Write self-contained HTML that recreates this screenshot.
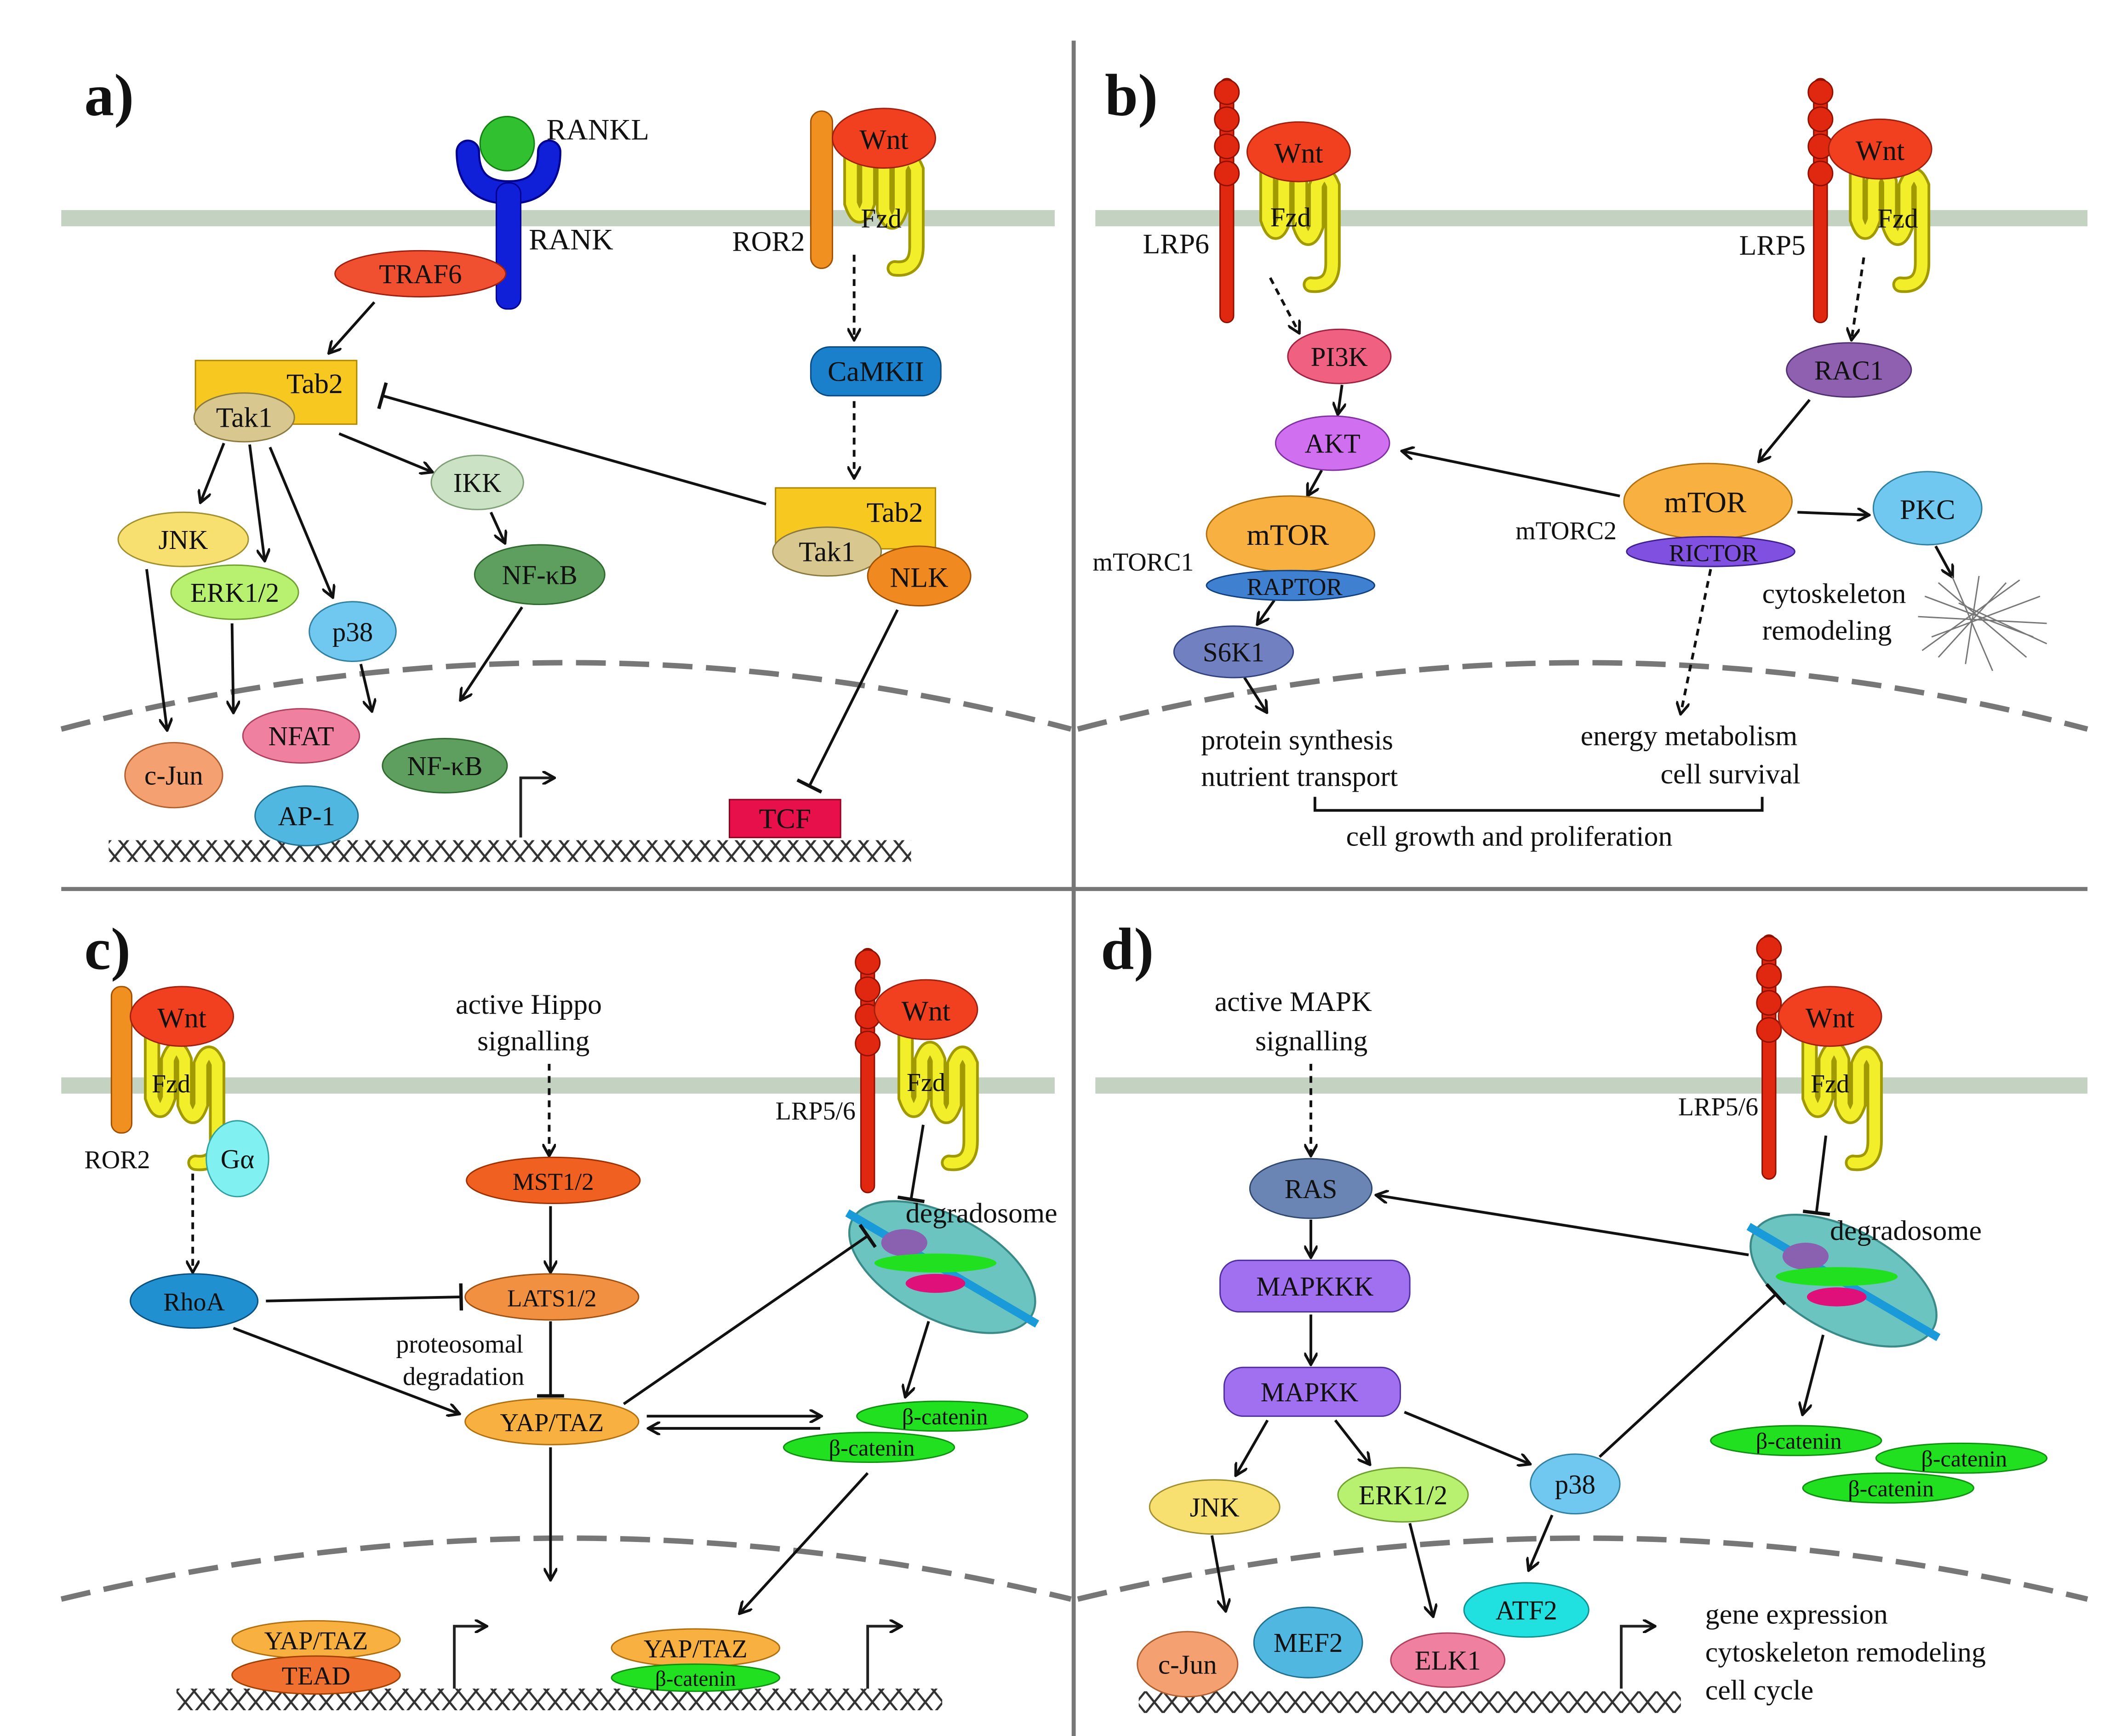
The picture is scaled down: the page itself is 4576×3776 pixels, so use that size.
<!DOCTYPE html>
<html><head><meta charset="utf-8"><style>html,body{margin:0;padding:0;background:#fff}svg{display:block}text{font-family:"Liberation Serif",serif;fill:#111}</style></head><body>
<svg width="4576" height="3776" viewBox="0 0 1552 1281" xmlns="http://www.w3.org/2000/svg">
<defs>
<marker id="ar" markerWidth="10" markerHeight="10" refX="8" refY="5" orient="auto" markerUnits="userSpaceOnUse"><path d="M0,0 L9,5 L0,10" fill="none" stroke="#111" stroke-width="2"/></marker>
<marker id="tb" markerWidth="4" markerHeight="20" refX="2" refY="10" orient="auto" markerUnits="userSpaceOnUse"><path d="M2,0 V20" stroke="#111" stroke-width="2.5"/></marker>
<pattern id="dna" width="13" height="16" patternUnits="userSpaceOnUse"><path d="M0,0 L13,16 M13,0 L0,16" stroke="#333" stroke-width="1.6"/></pattern>
<g id="fzd"><path d="M0,-15 V40 Q6,58 12,40 V12 Q18,-4 24,12 V45 Q30,62 36,45 V15 Q42,0 48,15 V72 Q48,90 32,88" fill="none" stroke="#a09a00" stroke-width="12" stroke-linecap="round"/><path d="M0,-15 V40 Q6,58 12,40 V12 Q18,-4 24,12 V45 Q30,62 36,45 V15 Q42,0 48,15 V72 Q48,90 32,88" fill="none" stroke="#f2ee2a" stroke-width="8" stroke-linecap="round"/></g>
<g id="lrp"><rect x="-5" y="0" width="10" height="180" rx="5" fill="#e02810" stroke="#901000"/><circle cx="0" cy="10" r="9" fill="#e02810" stroke="#901000"/><circle cx="0" cy="30" r="9" fill="#e02810" stroke="#901000"/><circle cx="0" cy="50" r="9" fill="#e02810" stroke="#901000"/><circle cx="0" cy="70" r="9" fill="#e02810" stroke="#901000"/></g>
<g id="degr"><ellipse cx="0" cy="0" rx="75" ry="38" transform="rotate(28)" fill="#6cc4c0" stroke="#3a8a88" stroke-width="1.5"/><line x1="-70" y1="-40" x2="70" y2="42" stroke="#1a9ad8" stroke-width="6"/><ellipse cx="-28" cy="-18" rx="17" ry="10" fill="#8a60b0"/><ellipse cx="-5" cy="-3" rx="45" ry="7" fill="#20e020"/><ellipse cx="-5" cy="12" rx="22" ry="7" fill="#e0107a"/></g>
</defs>
<rect width="1552" height="1281" fill="#fff"/>
<line x1="792" y1="30" x2="792" y2="1281" stroke="#777" stroke-width="3"/>
<line x1="45" y1="656" x2="1540" y2="656" stroke="#777" stroke-width="3"/>
<rect x="45" y="155" width="733" height="12" fill="#c4d2c2"/>
<rect x="808" y="155" width="732" height="12" fill="#c4d2c2"/>
<rect x="45" y="795" width="733" height="12" fill="#c4d2c2"/>
<rect x="808" y="795" width="732" height="12" fill="#c4d2c2"/>
<g fill="none" stroke="#777" stroke-width="4" stroke-dasharray="22 10">
<path d="M45,538 Q420,440 790,538"/><path d="M795,538 Q1170,440 1540,538"/>
<path d="M45,1180 Q420,1090 790,1180"/><path d="M795,1180 Q1170,1090 1540,1180"/>
</g>
<rect x="80" y="620" width="592" height="16" fill="url(#dna)"/>
<rect x="130" y="1246" width="565" height="16" fill="url(#dna)"/>
<rect x="840" y="1248" width="400" height="16" fill="url(#dna)"/>
<g fill="none" stroke="#222" stroke-width="2" marker-end="url(#ar)">
<path d="M384,618 V574 H408"/><path d="M335,1246 V1200 H358"/><path d="M640,1246 V1200 H664"/><path d="M1196,1246 V1200 H1220"/>
</g>
<g font-weight="bold" font-size="44"><text x="62" y="85">a)</text><text x="815" y="85">b)</text><text x="62" y="715">c)</text><text x="812" y="715">d)</text></g>

<!-- Panel a -->
<path d="M345,112 Q345,142 375,142 Q405,142 405,112" fill="none" stroke="#000090" stroke-width="18" stroke-linecap="round"/>
<path d="M345,112 Q345,142 375,142 Q405,142 405,112" fill="none" stroke="#1020d8" stroke-width="15" stroke-linecap="round"/>
<rect x="366" y="135" width="18" height="93" rx="8" fill="#1020d8" stroke="#000090"/>
<circle cx="374" cy="106" r="20" fill="#30c030" stroke="#108010"/>
<text x="403" y="103" font-size="22">RANKL</text><text x="390" y="184" font-size="22">RANK</text>
<ellipse cx="310" cy="202" rx="63" ry="17" fill="#f05030" stroke="#a02010"/><text x="310" y="209" font-size="20" text-anchor="middle">TRAF6</text>
<rect x="598" y="82" width="16" height="116" rx="8" fill="#f09020" stroke="#a05000"/>
<use href="#fzd" x="628" y="110"/>
<ellipse cx="652" cy="102" rx="38" ry="22" fill="#f04020" stroke="#a02010"/><text x="652" y="110" font-size="21" text-anchor="middle">Wnt</text>
<text x="650" y="168" font-size="20" text-anchor="middle">Fzd</text><text x="540" y="185" font-size="21">ROR2</text>
<g stroke="#111" stroke-width="2" fill="none">
<line x1="630" y1="188" x2="630" y2="250" stroke-dasharray="5 4" marker-end="url(#ar)"/>
<line x1="630" y1="296" x2="630" y2="352" stroke-dasharray="5 4" marker-end="url(#ar)"/>
<line x1="276" y1="223" x2="243" y2="260" marker-end="url(#ar)"/>
<line x1="565" y1="372" x2="282" y2="292" marker-end="url(#tb)"/>
<line x1="165" y1="327" x2="148" y2="370" marker-end="url(#ar)"/>
<line x1="184" y1="328" x2="195" y2="413" marker-end="url(#ar)"/>
<line x1="199" y1="330" x2="245" y2="440" marker-end="url(#ar)"/>
<line x1="250" y1="320" x2="318" y2="348" marker-end="url(#ar)"/>
<line x1="362" y1="378" x2="372" y2="400" marker-end="url(#ar)"/>
<line x1="108" y1="420" x2="123" y2="538" marker-end="url(#ar)"/>
<line x1="171" y1="460" x2="172" y2="525" marker-end="url(#ar)"/>
<line x1="266" y1="490" x2="274" y2="524" marker-end="url(#ar)"/>
<line x1="385" y1="448" x2="340" y2="516" marker-end="url(#ar)"/>
<line x1="662" y1="450" x2="597" y2="580" marker-end="url(#tb)"/>
</g>
<rect x="598" y="256" width="96" height="36" rx="14" fill="#1a80cc" stroke="#0a4a80"/><text x="646" y="281" font-size="21" text-anchor="middle">CaMKII</text>
<rect x="144" y="266" width="119" height="47" fill="#f6c820" stroke="#b08800"/><text x="232" y="290" font-size="21" text-anchor="middle">Tab2</text>
<ellipse cx="180" cy="308" rx="37" ry="18" fill="#d8c890" stroke="#8a7a40"/><text x="180" y="315" font-size="21" text-anchor="middle">Tak1</text>
<rect x="572" y="360" width="118" height="45" fill="#f6c820" stroke="#b08800"/><text x="660" y="385" font-size="21" text-anchor="middle">Tab2</text>
<ellipse cx="610" cy="407" rx="40" ry="18" fill="#d8c890" stroke="#8a7a40"/><text x="610" y="414" font-size="21" text-anchor="middle">Tak1</text>
<ellipse cx="678" cy="425" rx="38" ry="22" fill="#f08a20" stroke="#a05000"/><text x="678" y="433" font-size="21" text-anchor="middle">NLK</text>
<ellipse cx="135" cy="398" rx="48" ry="20" fill="#f8e070" stroke="#a09030"/><text x="135" y="405" font-size="20" text-anchor="middle">JNK</text>
<ellipse cx="173" cy="437" rx="47" ry="20" fill="#b8f070" stroke="#70a030"/><text x="173" y="444" font-size="20" text-anchor="middle">ERK1/2</text>
<ellipse cx="260" cy="466" rx="32" ry="22" fill="#70c8f0" stroke="#3080a0"/><text x="260" y="473" font-size="20" text-anchor="middle">p38</text>
<ellipse cx="352" cy="356" rx="34" ry="20" fill="#cce2c4" stroke="#80a078"/><text x="352" y="363" font-size="20" text-anchor="middle">IKK</text>
<ellipse cx="398" cy="424" rx="48" ry="22" fill="#5e9e5e" stroke="#2e6a2e"/><text x="398" y="431" font-size="20" text-anchor="middle">NF-κB</text>
<ellipse cx="128" cy="572" rx="36" ry="24" fill="#f4a070" stroke="#b06030"/><text x="128" y="579" font-size="20" text-anchor="middle">c-Jun</text>
<ellipse cx="222" cy="543" rx="43" ry="20" fill="#f080a0" stroke="#b04060"/><text x="222" y="550" font-size="20" text-anchor="middle">NFAT</text>
<ellipse cx="226" cy="602" rx="38" ry="22" fill="#50b8e0" stroke="#207090"/><text x="226" y="609" font-size="20" text-anchor="middle">AP-1</text>
<ellipse cx="328" cy="565" rx="46" ry="20" fill="#5e9e5e" stroke="#2e6a2e"/><text x="328" y="572" font-size="20" text-anchor="middle">NF-κB</text>
<rect x="538" y="590" width="82" height="28" fill="#e8104a" stroke="#900020"/><text x="579" y="611" font-size="21" text-anchor="middle">TCF</text>

<!-- Panel b -->
<use href="#lrp" x="905" y="58"/><use href="#fzd" x="935" y="122"/>
<ellipse cx="958" cy="112" rx="38" ry="22" fill="#f04020" stroke="#a02010"/><text x="958" y="120" font-size="21" text-anchor="middle">Wnt</text>
<text x="952" y="167" font-size="20" text-anchor="middle">Fzd</text><text x="843" y="187" font-size="21">LRP6</text>
<use href="#lrp" x="1343" y="58"/><use href="#fzd" x="1370" y="122"/>
<ellipse cx="1387" cy="110" rx="38" ry="22" fill="#f04020" stroke="#a02010"/><text x="1387" y="118" font-size="21" text-anchor="middle">Wnt</text>
<text x="1400" y="168" font-size="20" text-anchor="middle">Fzd</text><text x="1283" y="188" font-size="21">LRP5</text>
<g stroke="#111" stroke-width="2" fill="none">
<line x1="937" y1="205" x2="958" y2="245" stroke-dasharray="5 4" marker-end="url(#ar)"/>
<line x1="1375" y1="190" x2="1366" y2="250" stroke-dasharray="5 4" marker-end="url(#ar)"/>
<line x1="990" y1="284" x2="987" y2="305" marker-end="url(#ar)"/>
<line x1="975" y1="347" x2="965" y2="365" marker-end="url(#ar)"/>
<line x1="940" y1="443" x2="928" y2="460" marker-end="url(#ar)"/>
<line x1="918" y1="500" x2="934" y2="525" marker-end="url(#ar)"/>
<line x1="1195" y1="366" x2="1035" y2="333" marker-end="url(#ar)"/>
<line x1="1335" y1="295" x2="1298" y2="340" marker-end="url(#ar)"/>
<line x1="1326" y1="378" x2="1378" y2="380" marker-end="url(#ar)"/>
<line x1="1428" y1="403" x2="1440" y2="425" marker-end="url(#ar)"/>
<line x1="1262" y1="420" x2="1240" y2="526" stroke-dasharray="5 4" marker-end="url(#ar)"/>
<path d="M970,588 V598 H1300 V588"/>
</g>
<g stroke="#777" stroke-width="1">
<path d="M1420,440 L1500,470 M1425,470 L1505,440 M1440,425 L1470,495 M1460,425 L1450,490 M1415,455 L1510,460 M1430,430 L1495,485 M1480,430 L1430,485 M1445,445 L1510,475 M1418,480 L1490,428"/>
</g>
<ellipse cx="988" cy="263" rx="38" ry="20" fill="#f06080" stroke="#a02040"/><text x="988" y="270" font-size="20" text-anchor="middle">PI3K</text>
<ellipse cx="983" cy="327" rx="42" ry="20" fill="#d070f0" stroke="#8030a0"/><text x="983" y="334" font-size="20" text-anchor="middle">AKT</text>
<ellipse cx="952" cy="394" rx="62" ry="28" fill="#f8b040" stroke="#b07010"/><text x="950" y="402" font-size="22" text-anchor="middle">mTOR</text>
<ellipse cx="952" cy="432" rx="62" ry="11" fill="#4080d0" stroke="#104080"/><text x="955" y="439" font-size="18" text-anchor="middle">RAPTOR</text>
<ellipse cx="910" cy="481" rx="44" ry="19" fill="#7080c0" stroke="#304080"/><text x="910" y="488" font-size="20" text-anchor="middle">S6K1</text>
<text x="806" y="421" font-size="19">mTORC1</text>
<ellipse cx="1364" cy="273" rx="46" ry="20" fill="#9060b0" stroke="#503070"/><text x="1364" y="280" font-size="20" text-anchor="middle">RAC1</text>
<ellipse cx="1260" cy="370" rx="62" ry="28" fill="#f8b040" stroke="#b07010"/><text x="1258" y="378" font-size="22" text-anchor="middle">mTOR</text>
<ellipse cx="1262" cy="407" rx="62" ry="11" fill="#8050e0" stroke="#402090"/><text x="1264" y="414" font-size="18" text-anchor="middle">RICTOR</text>
<text x="1118" y="398" font-size="19">mTORC2</text>
<ellipse cx="1422" cy="375" rx="40" ry="27" fill="#70c8f0" stroke="#3080a0"/><text x="1422" y="383" font-size="21" text-anchor="middle">PKC</text>
<text x="1300" y="445" font-size="21">cytoskeleton</text><text x="1300" y="472" font-size="21">remodeling</text>
<g font-size="21"><text x="886" y="553">protein synthesis</text><text x="886" y="580">nutrient transport</text>
<text x="1166" y="550">energy metabolism</text><text x="1225" y="578">cell survival</text>
<text x="993" y="624">cell growth and proliferation</text></g>

<!-- Panel c -->
<rect x="82" y="728" width="15" height="108" rx="7" fill="#f09020" stroke="#a05000"/>
<use href="#fzd" x="112" y="770"/>
<ellipse cx="134" cy="750" rx="38" ry="22" fill="#f04020" stroke="#a02010"/><text x="134" y="758" font-size="21" text-anchor="middle">Wnt</text>
<text x="126" y="806" font-size="19" text-anchor="middle">Fzd</text><text x="62" y="862" font-size="19">ROR2</text>
<ellipse cx="175" cy="855" rx="23" ry="28" fill="#80f0f0" stroke="#30a0a0"/><text x="175" y="862" font-size="20" text-anchor="middle">Gα</text>
<g font-size="21"><text x="336" y="748">active Hippo</text><text x="352" y="775">signalling</text></g>
<use href="#lrp" x="640" y="700"/><use href="#fzd" x="668" y="770"/>
<ellipse cx="683" cy="745" rx="38" ry="22" fill="#f04020" stroke="#a02010"/><text x="683" y="753" font-size="21" text-anchor="middle">Wnt</text>
<text x="683" y="805" font-size="19" text-anchor="middle">Fzd</text><text x="572" y="826" font-size="19">LRP5/6</text>
<use href="#degr" x="695" y="935"/>
<text x="668" y="902" font-size="21">degradosome</text>
<g stroke="#111" stroke-width="2" fill="none">
<line x1="142" y1="866" x2="142" y2="938" stroke-dasharray="5 4" marker-end="url(#ar)"/>
<line x1="405" y1="785" x2="405" y2="852" stroke-dasharray="5 4" marker-end="url(#ar)"/>
<line x1="406" y1="890" x2="406" y2="938" marker-end="url(#ar)"/>
<line x1="196" y1="960" x2="340" y2="957" marker-end="url(#tb)"/>
<line x1="406" y1="975" x2="406" y2="1030" marker-end="url(#tb)"/>
<line x1="172" y1="980" x2="338" y2="1043" marker-end="url(#ar)"/>
<line x1="460" y1="1036" x2="640" y2="912" marker-end="url(#tb)"/>
<line x1="681" y1="830" x2="672" y2="885" marker-end="url(#tb)"/>
<line x1="685" y1="975" x2="668" y2="1030" marker-end="url(#ar)"/>
<line x1="477" y1="1045" x2="605" y2="1045" marker-end="url(#ar)"/>
<line x1="605" y1="1054" x2="479" y2="1054" marker-end="url(#ar)"/>
<line x1="406" y1="1068" x2="406" y2="1165" marker-end="url(#ar)"/>
<line x1="640" y1="1087" x2="546" y2="1190" marker-end="url(#ar)"/>
</g>
<ellipse cx="143" cy="960" rx="47" ry="20" fill="#2090d0" stroke="#0a5080"/><text x="143" y="967" font-size="19" text-anchor="middle">RhoA</text>
<ellipse cx="408" cy="871" rx="64" ry="17" fill="#f06020" stroke="#a03000"/><text x="408" y="878" font-size="18" text-anchor="middle">MST1/2</text>
<ellipse cx="407" cy="957" rx="64" ry="17" fill="#f09040" stroke="#a05010"/><text x="407" y="964" font-size="18" text-anchor="middle">LATS1/2</text>
<ellipse cx="407" cy="1049" rx="64" ry="17" fill="#f8b040" stroke="#b07010"/><text x="407" y="1056" font-size="19" text-anchor="middle">YAP/TAZ</text>
<g font-size="19"><text x="292" y="998">proteosomal</text><text x="297" y="1022">degradation</text></g>
<ellipse cx="695" cy="1045" rx="63" ry="11" fill="#20e020" stroke="#109010"/><text x="697" y="1051" font-size="17" text-anchor="middle">β-catenin</text>
<ellipse cx="641" cy="1068" rx="63" ry="11" fill="#20e020" stroke="#109010"/><text x="643" y="1074" font-size="17" text-anchor="middle">β-catenin</text>
<ellipse cx="233" cy="1210" rx="62" ry="14" fill="#f8b040" stroke="#b07010"/><text x="233" y="1217" font-size="19" text-anchor="middle">YAP/TAZ</text>
<ellipse cx="233" cy="1236" rx="62" ry="14" fill="#f07030" stroke="#a04000"/><text x="233" y="1243" font-size="19" text-anchor="middle">TEAD</text>
<ellipse cx="513" cy="1216" rx="62" ry="14" fill="#f8b040" stroke="#b07010"/><text x="513" y="1223" font-size="19" text-anchor="middle">YAP/TAZ</text>
<ellipse cx="513" cy="1238" rx="62" ry="10" fill="#20e020" stroke="#109010"/><text x="513" y="1244" font-size="16" text-anchor="middle">β-catenin</text>

<!-- Panel d -->
<g font-size="21"><text x="896" y="746">active MAPK</text><text x="926" y="775">signalling</text></g>
<use href="#lrp" x="1305" y="690"/><use href="#fzd" x="1335" y="770"/>
<ellipse cx="1350" cy="750" rx="38" ry="22" fill="#f04020" stroke="#a02010"/><text x="1350" y="758" font-size="21" text-anchor="middle">Wnt</text>
<text x="1350" y="806" font-size="19" text-anchor="middle">Fzd</text><text x="1238" y="823" font-size="19">LRP5/6</text>
<use href="#degr" x="1360" y="945"/>
<text x="1350" y="915" font-size="21">degradosome</text>
<g stroke="#111" stroke-width="2" fill="none">
<line x1="967" y1="785" x2="967" y2="852" stroke-dasharray="5 4" marker-end="url(#ar)"/>
<line x1="967" y1="900" x2="967" y2="927" marker-end="url(#ar)"/>
<line x1="967" y1="970" x2="967" y2="1006" marker-end="url(#ar)"/>
<line x1="1290" y1="926" x2="1016" y2="882" marker-end="url(#ar)"/>
<line x1="1347" y1="838" x2="1340" y2="895" marker-end="url(#tb)"/>
<line x1="1180" y1="1075" x2="1310" y2="955" marker-end="url(#tb)"/>
<line x1="1345" y1="985" x2="1330" y2="1043" marker-end="url(#ar)"/>
<line x1="935" y1="1048" x2="912" y2="1088" marker-end="url(#ar)"/>
<line x1="985" y1="1048" x2="1010" y2="1080" marker-end="url(#ar)"/>
<line x1="1036" y1="1042" x2="1128" y2="1080" marker-end="url(#ar)"/>
<line x1="894" y1="1133" x2="904" y2="1188" marker-end="url(#ar)"/>
<line x1="1040" y1="1124" x2="1057" y2="1192" marker-end="url(#ar)"/>
<line x1="1145" y1="1118" x2="1128" y2="1158" marker-end="url(#ar)"/>
</g>
<ellipse cx="967" cy="877" rx="45" ry="22" fill="#6a84b4" stroke="#304870"/><text x="967" y="884" font-size="20" text-anchor="middle">RAS</text>
<rect x="900" y="930" width="140" height="38" rx="14" fill="#a070f0" stroke="#5030a0"/><text x="970" y="956" font-size="20" text-anchor="middle">MAPKKK</text>
<rect x="903" y="1009" width="130" height="36" rx="14" fill="#a070f0" stroke="#5030a0"/><text x="966" y="1034" font-size="20" text-anchor="middle">MAPKK</text>
<ellipse cx="896" cy="1112" rx="48" ry="20" fill="#f8e070" stroke="#a09030"/><text x="896" y="1119" font-size="20" text-anchor="middle">JNK</text>
<ellipse cx="1035" cy="1103" rx="48" ry="20" fill="#b8f070" stroke="#70a030"/><text x="1035" y="1110" font-size="20" text-anchor="middle">ERK1/2</text>
<ellipse cx="1162" cy="1095" rx="33" ry="22" fill="#70c8f0" stroke="#3080a0"/><text x="1162" y="1102" font-size="20" text-anchor="middle">p38</text>
<ellipse cx="876" cy="1228" rx="37" ry="24" fill="#f4a070" stroke="#b06030"/><text x="876" y="1235" font-size="20" text-anchor="middle">c-Jun</text>
<ellipse cx="965" cy="1212" rx="40" ry="26" fill="#50b8e0" stroke="#207090"/><text x="965" y="1219" font-size="20" text-anchor="middle">MEF2</text>
<ellipse cx="1068" cy="1225" rx="42" ry="20" fill="#f080a0" stroke="#b04060"/><text x="1068" y="1232" font-size="20" text-anchor="middle">ELK1</text>
<ellipse cx="1126" cy="1188" rx="46" ry="20" fill="#20e0e0" stroke="#109090"/><text x="1126" y="1195" font-size="20" text-anchor="middle">ATF2</text>
<ellipse cx="1325" cy="1063" rx="63" ry="11" fill="#20e020" stroke="#109010"/><text x="1327" y="1069" font-size="17" text-anchor="middle">β-catenin</text>
<ellipse cx="1447" cy="1076" rx="63" ry="11" fill="#20e020" stroke="#109010"/><text x="1449" y="1082" font-size="17" text-anchor="middle">β-catenin</text>
<ellipse cx="1393" cy="1098" rx="63" ry="11" fill="#20e020" stroke="#109010"/><text x="1395" y="1104" font-size="17" text-anchor="middle">β-catenin</text>
<g font-size="21"><text x="1258" y="1198">gene expression</text><text x="1258" y="1226">cytoskeleton remodeling</text><text x="1258" y="1254">cell cycle</text></g>
</svg>
</body></html>
